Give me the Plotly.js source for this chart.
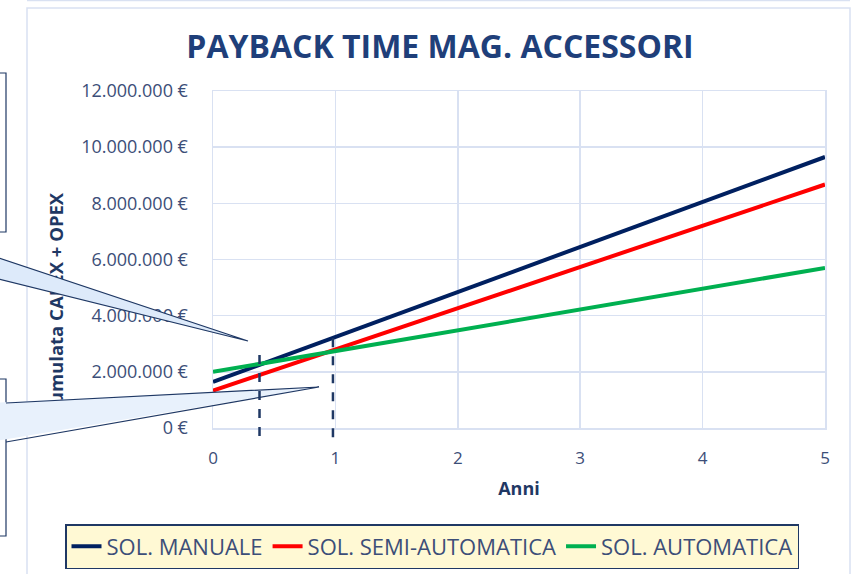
<!DOCTYPE html>
<html>
<head>
<meta charset="utf-8">
<script src="https://cdn.plot.ly/plotly-3.0.1.min.js"></script>
<style>
  body { margin: 0; background: #ffffff; }
  #chart { width: 859px; height: 574px; }
</style>
</head>
<body>
<div id="chart"></div>
<script>
// Years on the x axis and cumulative cost per solution (EUR)
const years = [0, 1, 2, 3, 4, 5];
const manuale = [1640000, 3240000, 4840000, 6450000, 8050000, 9650000];
const semiAutomatica = [1330000, 2800000, 4270000, 5730000, 7200000, 8670000];
const automatica = [2000000, 2740000, 3480000, 4220000, 4960000, 5700000];

const seriesNames = ['SOL. MANUALE', 'SOL. SEMI-AUTOMATICA', 'SOL. AUTOMATICA'];
const yTicks = [0, 2000000, 4000000, 6000000, 8000000, 10000000, 12000000];
const yTickText = ['0 €', '2.000.000 €', '4.000.000 €', '6.000.000 €', '8.000.000 €', '10.000.000 €', '12.000.000 €'];

// payback markers (dashed lines): year and the cost where the dash starts
const paybackYears = [0.38, 0.98];
const paybackTop = [2600000, 3200000];

// plot area in pixels, used to place the callouts, legend and frame
const plotL = 213, plotR = 825, plotT = 91, plotB = 428;
const W = 859, H = 574;
const px = x => (x - plotL) / (plotR - plotL);
const py = y => (plotB - y) / (plotB - plotT);

const navy = '#1F3864';
const textBlue = '#3C4E78';
const gridBlue = '#D9E1F2';

const traces = [
    { x: years, y: manuale, name: seriesNames[0], type: 'scatter', mode: 'lines',
      line: { color: '#002060', width: 4 } },
    { x: years, y: semiAutomatica, name: seriesNames[1], type: 'scatter', mode: 'lines',
      line: { color: '#FF0000', width: 4 } },
    { x: years, y: automatica, name: seriesNames[2], type: 'scatter', mode: 'lines',
      line: { color: '#00B050', width: 4 } }
];

const shapes = [];

// outer chart frame
shapes.push({ type: 'rect', xref: 'paper', yref: 'paper', layer: 'below',
    x0: px(27), x1: px(850), y0: py(8), y1: py(600),
    line: { color: gridBlue, width: 1.5 }, fillcolor: 'rgba(0,0,0,0)' });
shapes.push({ type: 'line', xref: 'paper', yref: 'paper', layer: 'below',
    x0: px(27), x1: px(850), y0: py(0.5), y1: py(0.5),
    line: { color: gridBlue, width: 1.5 } });

// callout boxes cut by the left edge
shapes.push({ type: 'rect', xref: 'paper', yref: 'paper', layer: 'above',
    x0: px(-20), x1: px(6), y0: py(73), y1: py(232),
    line: { color: navy, width: 1.2 }, fillcolor: '#FFFFFF' });
shapes.push({ type: 'rect', xref: 'paper', yref: 'paper', layer: 'above',
    x0: px(-20), x1: px(6), y0: py(379), y1: py(536),
    line: { color: navy, width: 1.2 }, fillcolor: '#FFFFFF' });

// callout pointers
function wedge(yA, yB, tipX, tipY, xStart, fill) {
    shapes.push({ type: 'path', xref: 'paper', yref: 'paper', layer: 'above',
        path: `M ${px(-10)},${py(yA)} L ${px(tipX)},${py(tipY)} L ${px(-10)},${py(yB)} Z`,
        fillcolor: fill, line: { width: 0 } });
    shapes.push({ type: 'path', xref: 'paper', yref: 'paper', layer: 'above',
        path: `M ${px(xStart)},${py(yA)} L ${px(tipX)},${py(tipY)} L ${px(xStart)},${py(yB)}`,
        line: { color: navy, width: 1.2 } });
}
wedge(255, 277, 248, 341, -10, '#DDEAFA');
wedge(403, 442, 319, 387, 6, '#E8F1FC');

// dashed payback lines
paybackYears.forEach((yr, i) => {
    shapes.push({ type: 'line', xref: 'x', yref: 'paper', layer: 'above',
        x0: yr, x1: yr, y0: paybackTop[i] / 12000000, y1: py(440),
        line: { color: navy, width: 2.5, dash: 'dash' } });
});

const layout = {
    width: W,
    height: H,
    paper_bgcolor: '#FFFFFF',
    plot_bgcolor: '#FFFFFF',
    margin: { l: plotL, r: W - plotR, t: plotT, b: H - plotB, autoexpand: false },
    font: { family: '"Open Sans", sans-serif', color: textBlue },
    title: {
        text: '<b>PAYBACK TIME MAG. ACCESSORI</b>',
        font: { size: 32, color: '#1F3F7A' },
        xref: 'container', yref: 'container',
        x: 440 / W, xanchor: 'center', y: 1 - 47 / H, yanchor: 'middle'
    },
    xaxis: {
        range: [0, 5],
        tickvals: years,
        showgrid: true, gridcolor: gridBlue, gridwidth: 1.5,
        zeroline: false,
        showline: true, mirror: true, linecolor: gridBlue, linewidth: 1.5,
        ticks: '', ticklabelstandoff: 14,
        tickfont: { size: 17, color: textBlue },
        title: { text: '<b>Anni</b>', font: { size: 18, color: navy }, standoff: 14 }
    },
    yaxis: {
        range: [0, 12000000],
        tickvals: yTicks,
        ticktext: yTickText,
        showgrid: true, gridcolor: gridBlue, gridwidth: 1.5,
        zeroline: false,
        showline: true, mirror: true, linecolor: gridBlue, linewidth: 1.5,
        ticks: '', ticklabelstandoff: 20,
        tickfont: { size: 18, color: textBlue }
    },
    annotations: [{
        text: '<b>Cumulata CAPEX + OPEX</b>',
        textangle: -90,
        xref: 'paper', yref: 'paper',
        x: px(55), y: py(304), xanchor: 'center', yanchor: 'middle',
        showarrow: false,
        font: { size: 18.5, color: navy }
    }],
    showlegend: true,
    legend: {
        orientation: 'h',
        xref: 'paper', yref: 'paper',
        x: px(65), xanchor: 'left',
        y: py(524), yanchor: 'top',
        bgcolor: '#FFF9D4',
        bordercolor: navy, borderwidth: 1.5,
        font: { size: 22, color: textBlue },
        itemwidth: 30
    },
    shapes: shapes
};

const gd = document.getElementById('chart');
Plotly.newPlot(gd, traces, layout, { displayModeBar: false, staticPlot: true }).then(() => {
    // put the rotated axis label under the callouts, like in the original sheet
    const above = gd.querySelector('.main-svg .layer-above');
    gd.querySelectorAll('.infolayer .annotation').forEach(a => {
        above.parentNode.insertBefore(a, above);
    });
});
</script>
</body>
</html>
